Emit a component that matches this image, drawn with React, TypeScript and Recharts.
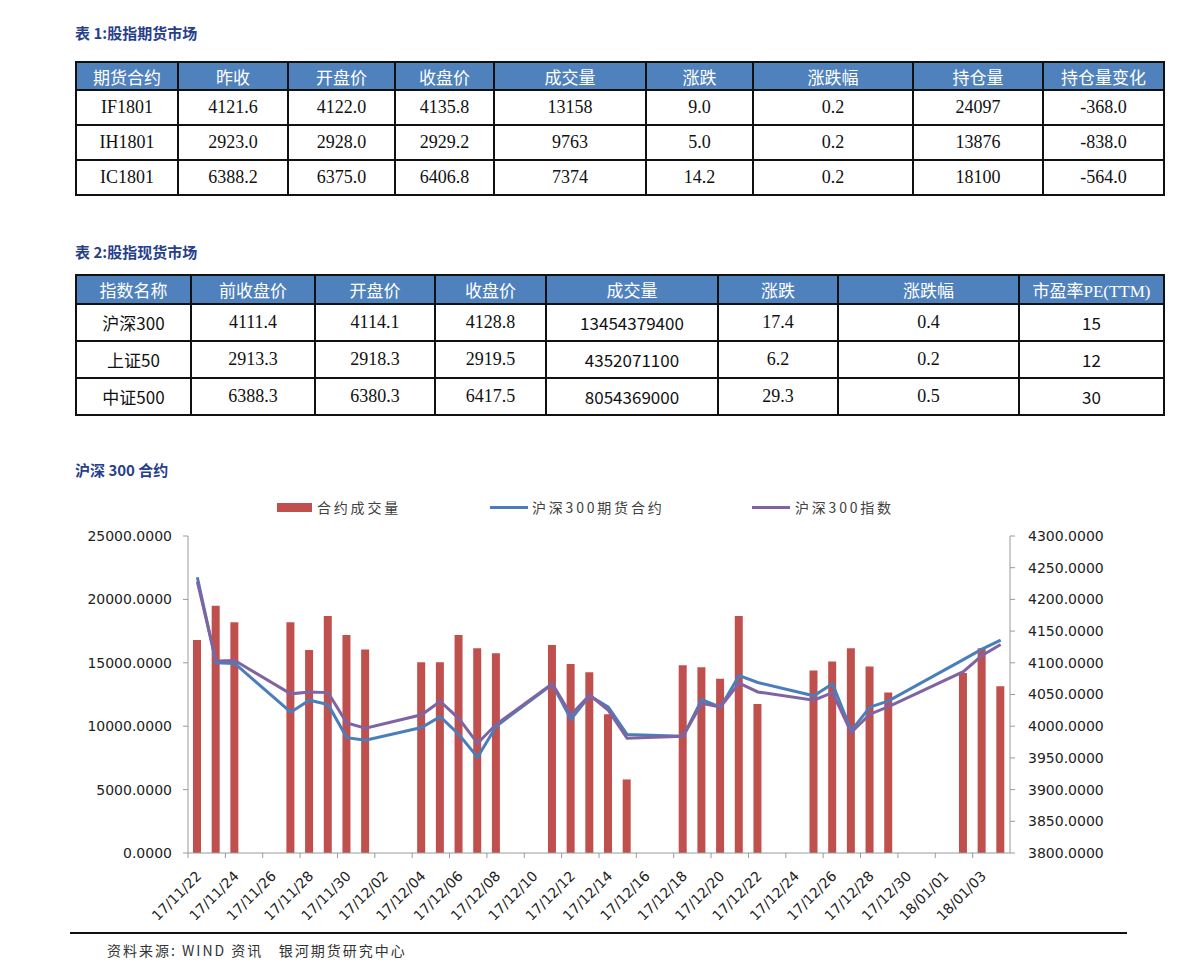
import React from "react";
import { ComposedChart, Bar, Line, XAxis, YAxis } from "recharts";

// ---- table data ----
const futHeaders = ["期货合约", "昨收", "开盘价", "收盘价", "成交量", "涨跌", "涨跌幅", "持仓量", "持仓量变化"];
const futRows = [
  ["IF1801", "4121.6", "4122.0", "4135.8", "13158", "9.0", "0.2", "24097", "-368.0"],
  ["IH1801", "2923.0", "2928.0", "2929.2", "9763", "5.0", "0.2", "13876", "-838.0"],
  ["IC1801", "6388.2", "6375.0", "6406.8", "7374", "14.2", "0.2", "18100", "-564.0"],
];

const spotHeaders = ["指数名称", "前收盘价", "开盘价", "收盘价", "成交量", "涨跌", "涨跌幅", "市盈率PE(TTM)"];
const spotRows = [
  ["沪深300", "4111.4", "4114.1", "4128.8", "13454379400", "17.4", "0.4", "15"],
  ["上证50", "2913.3", "2918.3", "2919.5", "4352071100", "6.2", "0.2", "12"],
  ["中证500", "6388.3", "6380.3", "6417.5", "8054369000", "29.3", "0.5", "30"],
];

// ---- chart data ----
const dates = [
  "17/11/22", "17/11/23", "17/11/24", "17/11/25", "17/11/26", "17/11/27", "17/11/28", "17/11/29", "17/11/30",
  "17/12/01", "17/12/02", "17/12/03", "17/12/04", "17/12/05", "17/12/06", "17/12/07", "17/12/08", "17/12/09",
  "17/12/10", "17/12/11", "17/12/12", "17/12/13", "17/12/14", "17/12/15", "17/12/16", "17/12/17", "17/12/18",
  "17/12/19", "17/12/20", "17/12/21", "17/12/22", "17/12/23", "17/12/24", "17/12/25", "17/12/26", "17/12/27",
  "17/12/28", "17/12/29", "17/12/30", "17/12/31", "18/01/01", "18/01/02", "18/01/03", "18/01/04",
];

const volume = [
  16800, 19500, 18200, null, null, 18200, 16000, 18700, 17200,
  16050, null, null, 15050, 15050, 17200, 16150, 15750, null,
  null, 16400, 14900, 14250, 10950, 5800, null, null, 14800,
  14650, 13750, 18700, 11750, null, null, 14400, 15100, 16150,
  14700, 12650, null, null, null, 14200, 16150, 13158,
];

const futuresClose = [
  4235, 4100, 4099, null, null, 4022, 4041, 4034, 3982,
  3978, null, null, 3998, 4015, 3987, 3951, 4000, null,
  null, 4066, 4011, 4048, 4030, 3987, null, null, 3984,
  4042, 4030, 4080, 4069, null, null, 4048, 4067, 3993,
  4030, 4040, null, null, null, 4105, 4121.6, 4135.8,
];

const indexClose = [
  4228, 4103, 4103.5, null, null, 4051, 4054, 4053, 4005,
  3997, null, null, 4018, 4039, 4012, 3973, 4003, null,
  null, 4067, 4018, 4049, 4025, 3981, null, null, 3984,
  4036, 4030, 4068, 4054, null, null, 4041, 4053, 3990,
  4019, 4031, null, null, null, 4086, 4111.4, 4128.8,
];

const volumeTicks = [0, 5000, 10000, 15000, 20000, 25000];
const priceTicks = [3800, 3850, 3900, 3950, 4000, 4050, 4100, 4150, 4200, 4250, 4300];

const series = [
  { key: "volume", name: "合约成交量", color: "#c0504d", kind: "bar" },
  { key: "futures", name: "沪深300期货合约", color: "#4a7ebb", kind: "line" },
  { key: "index", name: "沪深300指数", color: "#8064a2", kind: "line" },
];

const chartData = dates.map((d, i) => ({
  date: d,
  volume: volume[i],
  futures: futuresClose[i],
  index: indexClose[i],
}));

// ---- layout ----
const TITLE_COLOR = "#27408b";
const AXIS_COLOR = "#9a9a9a";
const CJK = '"Noto Sans CJK SC", sans-serif';
const SERIF = '"Liberation Serif", "Noto Sans CJK SC", serif';
const AXIS_FONT = '"DejaVu Sans", sans-serif';

const futWidths = [102, 110, 107, 99, 152, 107, 160, 130, 121];
const spotWidths = [115, 124, 120, 111, 172, 120, 181, 145];

const CHART_TOP = 480;
const CHART_W = 1191;
const CHART_H = 460;
const PLOT_LEFT = 188;
const PLOT_RIGHT = 1010;
const BAND = (PLOT_RIGHT - PLOT_LEFT) / dates.length;

function Title({ text, top }: { text: string; top: number }) {
  return (
    <div style={{
      position: "absolute", left: 75, top, fontFamily: CJK, fontWeight: 700,
      fontSize: 15, color: TITLE_COLOR, lineHeight: "20px",
    }}>{text}</div>
  );
}

function DataTable({
  top, widths, headers, rows, headH, rowH, sansCols,
}: {
  top: number; widths: number[]; headers: string[]; rows: string[][];
  headH: number; rowH: number; sansCols: number[];
}) {
  const total = widths.reduce((a, b) => a + b, 0);
  const border = "2px solid #111";
  return (
    <table style={{
      position: "absolute", left: 75, top, width: total,
      borderCollapse: "collapse", tableLayout: "fixed",
    }}>
      <colgroup>
        {widths.map((w, i) => <col key={i} style={{ width: w }} />)}
      </colgroup>
      <thead>
        <tr style={{ height: headH }}>
          {headers.map(h => (
            <th key={h} style={{
              background: "#4f81bd", color: "#fff", border, padding: 0,
              fontWeight: 400, fontSize: 17, fontFamily: SERIF, textAlign: "center",
            }}>{h}</th>
          ))}
        </tr>
      </thead>
      <tbody>
        {rows.map((r, ri) => (
          <tr key={ri} style={{ height: rowH }}>
            {r.map((c, ci) => (
              <td key={ci} style={{
                border, padding: 0, textAlign: "center", color: "#111",
                fontFamily: sansCols.includes(ci) ? CJK : SERIF,
                fontSize: sansCols.includes(ci) ? 17 : 18,
              }}>{c}</td>
            ))}
          </tr>
        ))}
      </tbody>
    </table>
  );
}

function DateTick(props: any) {
  const { x, y, payload } = props;
  const left = x - BAND / 2;
  const tx = x + 5;
  const ty = y + 24;
  return (
    <g>
      <line x1={left} y1={y} x2={left} y2={y + 5} stroke={AXIS_COLOR} />
      <text
        x={tx} y={ty} textAnchor="end" transform={`rotate(-45, ${tx}, ${ty})`}
        fill="#222" fontSize={14} fontFamily={AXIS_FONT}
      >{payload.value}</text>
    </g>
  );
}

function ChartLegend() {
  const items = [
    { left: 277, textLeft: 317 },
    { left: 490, textLeft: 532 },
    { left: 752, textLeft: 795 },
  ];
  return (
    <>
      {series.map((s, i) => (
        <React.Fragment key={s.key}>
          {s.kind === "bar" ? (
            <div style={{ position: "absolute", left: items[i].left, top: 503, width: 35, height: 9, background: s.color }} />
          ) : (
            <div style={{ position: "absolute", left: items[i].left, top: 506, width: 38, height: 3, background: s.color }} />
          )}
          <div style={{
            position: "absolute", left: items[i].textLeft, top: 497, fontFamily: CJK, fontSize: 14,
            letterSpacing: 2.8, color: "#404040", lineHeight: "20px", whiteSpace: "nowrap",
          }}>{s.name}</div>
        </React.Fragment>
      ))}
    </>
  );
}

export default function App() {
  const fmt = (v: number) => v.toFixed(4);
  return (
    <div style={{ position: "absolute", left: 0, top: 0, width: 1191, height: 979, background: "#fff" }}>
      <Title text="表 1:股指期货市场" top={23} />
      <DataTable top={61} widths={futWidths} headers={futHeaders} rows={futRows} headH={28} rowH={35} sansCols={[]} />

      <Title text="表 2:股指现货市场" top={242} />
      <DataTable top={274} widths={spotWidths} headers={spotHeaders} rows={spotRows} headH={29} rowH={37} sansCols={[0, 4, 7]} />

      <Title text="沪深 300 合约" top={460} />
      <ChartLegend />

      <div style={{ position: "absolute", left: 0, top: CHART_TOP, width: CHART_W, height: CHART_H }}>
        <ComposedChart
          width={CHART_W}
          height={CHART_H}
          data={chartData}
          margin={{ top: 56, right: 0, left: 0, bottom: 0 }}
        >
          <XAxis
            dataKey="date"
            height={87}
            interval={1}
            tickLine={false}
            tickSize={0}
            tickMargin={0}
            axisLine={{ stroke: AXIS_COLOR }}
            tick={(p: any) => <DateTick {...p} />}
          />
          <YAxis
            yAxisId="vol"
            orientation="left"
            width={188}
            domain={[0, 25000]}
            ticks={volumeTicks}
            tickFormatter={fmt}
            tickSize={5}
            tickMargin={11}
            axisLine={{ stroke: AXIS_COLOR }}
            tickLine={{ stroke: AXIS_COLOR }}
            tick={{ fill: "#222", fontSize: 14, fontFamily: AXIS_FONT }}
          />
          <YAxis
            yAxisId="px"
            orientation="right"
            width={181}
            domain={[3800, 4300]}
            ticks={priceTicks}
            tickFormatter={fmt}
            tickSize={5}
            tickMargin={13}
            allowDataOverflow
            axisLine={{ stroke: AXIS_COLOR }}
            tickLine={{ stroke: AXIS_COLOR }}
            tick={{ fill: "#222", fontSize: 14, fontFamily: AXIS_FONT }}
          />
          <Bar yAxisId="vol" dataKey="volume" fill="#c0504d" barSize={8} isAnimationActive={false} />
          <Line
            yAxisId="px" type="linear" dataKey="futures" stroke="#4a7ebb" strokeWidth={3}
            dot={false} connectNulls isAnimationActive={false}
          />
          <Line
            yAxisId="px" type="linear" dataKey="index" stroke="#8064a2" strokeWidth={3}
            dot={false} connectNulls isAnimationActive={false}
          />
        </ComposedChart>
      </div>

      <div style={{ position: "absolute", left: 70, top: 932, width: 1057, height: 2, background: "#111" }} />
      <div style={{
        position: "absolute", left: 107, top: 940, fontFamily: CJK, fontSize: 14, color: "#333",
        letterSpacing: 2, lineHeight: "20px", whiteSpace: "pre",
      }}>{"资料来源: WIND 资讯   银河期货研究中心"}</div>
    </div>
  );
}
